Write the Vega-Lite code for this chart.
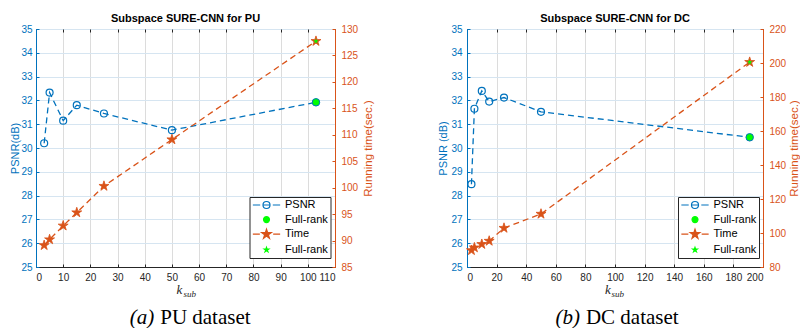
{
  "$schema": "https://vega.github.io/schema/vega-lite/v6.json",
  "background": "white",
  "padding": {"left": 9, "top": 12, "right": 0, "bottom": 0},
  "datasets": {
    "pu": [
      {"k": 3, "psnr": 30.2, "time": 89.1, "rank": "sub"},
      {"k": 5, "psnr": 32.33, "time": 90.2, "rank": "sub"},
      {"k": 10, "psnr": 31.15, "time": 92.8, "rank": "sub"},
      {"k": 15, "psnr": 31.8, "time": 95.3, "rank": "sub"},
      {"k": 25, "psnr": 31.45, "time": 100.3, "rank": "sub"},
      {"k": 50, "psnr": 30.75, "time": 109.1, "rank": "sub"},
      {"k": 103, "psnr": 31.92, "time": 127.7, "rank": "full"}
    ],
    "dc": [
      {"k": 3, "psnr": 28.48, "time": 89.8, "rank": "sub"},
      {"k": 5, "psnr": 31.65, "time": 91.4, "rank": "sub"},
      {"k": 10, "psnr": 32.4, "time": 93.4, "rank": "sub"},
      {"k": 15, "psnr": 31.95, "time": 95.3, "rank": "sub"},
      {"k": 25, "psnr": 32.12, "time": 102.9, "rank": "sub"},
      {"k": 50, "psnr": 31.52, "time": 111.2, "rank": "sub"},
      {"k": 191, "psnr": 30.45, "time": 200.5, "rank": "full"}
    ]
  },
  "hconcat": [
    {
      "width": 299,
      "height": 238,
      "title": {"text": "Subspace SURE-CNN for PU", "anchor": "middle", "frame": "group", "fontSize": 11, "fontWeight": "bold", "font": "Liberation Sans", "color": "#000000", "offset": 0},
      "data": {"name": "pu"},
      "resolve": {"scale": {"x": "independent", "y": "independent"}, "axis": {"x": "independent", "y": "independent"}},
      "layer": [
        {
          "mark": {"type": "line", "color": "#0072BD", "strokeDash": [6, 4], "strokeWidth": 1.3},
          "encoding": {
            "x": {"field": "k", "type": "quantitative", "scale": {"domain": [0, 110], "nice": false},
              "axis": {"orient": "bottom", "values": [0, 10, 20, 30, 40, 50, 60, 70, 80, 90, 100, 110], "grid": true, "gridColor": "#dcdcdc", "ticks": false, "domain": true, "domainColor": "#262626", "labelColor": "#262626", "labelFontSize": 10, "labelPadding": 5,
                "title": "k", "titleFont": "Liberation Serif", "titleFontStyle": "italic", "titleFontWeight": "normal", "titleFontSize": 13, "titleColor": "#262626", "titleX": 143, "titleY": 26, "titleBaseline": "alphabetic", "titleAlign": "center"}},
            "y": {"field": "psnr", "type": "quantitative", "scale": {"domain": [25, 35], "nice": false, "zero": false},
              "axis": {"orient": "left", "values": [25, 26, 27, 28, 29, 30, 31, 32, 33, 34, 35], "grid": true, "gridColor": "#d6e5f1", "ticks": false, "domainColor": "#0072BD", "labelColor": "#0072BD", "labelFontSize": 10, "labelPadding": 4,
                "title": "PSNR(dB)", "titleColor": "#0072BD", "titleFontSize": 11, "titleFontWeight": "normal", "titleX": -17.5, "titleY": 119, "titleAngle": -90, "titleBaseline": "alphabetic", "titleAlign": "center"}}
          }
        },
        {
          "transform": [{"filter": "datum.rank == 'sub'"}],
          "mark": {"type": "point", "shape": "circle", "filled": false, "color": "#0072BD", "size": 49, "strokeWidth": 1.2, "opacity": 1},
          "encoding": {
            "x": {"field": "k", "type": "quantitative", "scale": {"domain": [0, 110], "nice": false},
              "axis": {"orient": "top", "values": [0, 10, 20, 30, 40, 50, 60, 70, 80, 90, 100, 110], "grid": false, "domain": false, "labels": false, "ticks": true, "tickSize": -3, "tickColor": "#262626", "title": null}},
            "y": {"field": "psnr", "type": "quantitative", "scale": {"domain": [25, 35], "nice": false, "zero": false},
              "axis": {"orient": "left", "values": [25, 26, 27, 28, 29, 30, 31, 32, 33, 34, 35], "grid": false, "domain": false, "labels": false, "ticks": true, "tickSize": -3, "tickColor": "#0072BD", "title": null}}
          }
        },
        {
          "transform": [{"filter": "datum.rank == 'full'"}],
          "mark": {"type": "point", "shape": "circle", "filled": true, "fill": "#00FF00", "stroke": "#0072BD", "size": 56, "strokeWidth": 1, "opacity": 1},
          "encoding": {
            "x": {"field": "k", "type": "quantitative", "scale": {"domain": [0, 110], "nice": false},
              "axis": {"orient": "bottom", "values": [0, 10, 20, 30, 40, 50, 60, 70, 80, 90, 100, 110], "grid": false, "domain": false, "labels": false, "ticks": true, "tickSize": -3, "tickColor": "#262626",
                "title": "sub", "titleFont": "Liberation Serif", "titleFontStyle": "italic", "titleFontWeight": "normal", "titleFontSize": 9, "titleColor": "#262626", "titleX": 147, "titleY": 29, "titleBaseline": "alphabetic", "titleAlign": "left"}},
            "y": {"field": "psnr", "type": "quantitative", "scale": {"domain": [25, 35], "nice": false, "zero": false}, "axis": null}
          }
        },
        {
          "mark": {"type": "line", "color": "#D95319", "strokeDash": [6, 4], "strokeWidth": 1.3},
          "encoding": {
            "x": {"field": "k", "type": "quantitative", "scale": {"domain": [0, 110], "nice": false},
              "axis": {"orient": "bottom", "grid": false, "domain": false, "labels": false, "ticks": false,
                "title": "(a)", "titleFont": "Liberation Serif", "titleFontStyle": "italic", "titleFontWeight": "normal", "titleFontSize": 21, "titleColor": "#000000", "titleX": 93.3, "titleY": 56, "titleBaseline": "alphabetic", "titleAlign": "left"}},
            "y": {"field": "time", "type": "quantitative", "scale": {"domain": [85, 130], "nice": false, "zero": false},
              "axis": {"orient": "right", "values": [85, 90, 95, 100, 105, 110, 115, 120, 125, 130], "grid": false, "ticks": false, "domainColor": "#D95319", "labelColor": "#D95319", "labelFontSize": 10, "labelPadding": 6,
                "title": "Running time(sec.)", "titleColor": "#D95319", "titleFontSize": 11.5, "titleFontWeight": "normal", "titleX": 36, "titleY": 119, "titleAngle": -90, "titleBaseline": "alphabetic", "titleAlign": "center"}}
          }
        },
        {
          "mark": {"type": "point", "shape": "M0,-1L0.2245,-0.309L0.951,-0.309L0.363,0.118L0.588,0.809L0,0.382L-0.588,0.809L-0.363,0.118L-0.951,-0.309L-0.2245,-0.309Z", "filled": true, "fill": "#D95319", "size": 110, "stroke": "#D95319", "strokeWidth": 0.8, "opacity": 1},
          "encoding": {
            "x": {"field": "k", "type": "quantitative", "scale": {"domain": [0, 110], "nice": false},
              "axis": {"orient": "bottom", "grid": false, "domain": false, "labels": false, "ticks": false,
                "title": "PU dataset", "titleFont": "Liberation Serif", "titleFontStyle": "normal", "titleFontWeight": "normal", "titleFontSize": 21, "titleColor": "#000000", "titleX": 123.7, "titleY": 56, "titleBaseline": "alphabetic", "titleAlign": "left"}},
            "y": {"field": "time", "type": "quantitative", "scale": {"domain": [85, 130], "nice": false, "zero": false},
              "axis": {"orient": "right", "values": [85, 90, 95, 100, 105, 110, 115, 120, 125, 130], "grid": false, "domain": false, "labels": false, "ticks": true, "tickSize": -3, "tickColor": "#D95319", "title": null}}
          }
        },
        {
          "transform": [{"filter": "datum.rank == 'full'"}],
          "mark": {"type": "point", "shape": "M0,-1L0.2245,-0.309L0.951,-0.309L0.363,0.118L0.588,0.809L0,0.382L-0.588,0.809L-0.363,0.118L-0.951,-0.309L-0.2245,-0.309Z", "filled": true, "fill": "#00FF00", "size": 31, "opacity": 1},
          "encoding": {
            "x": {"field": "k", "type": "quantitative", "scale": {"domain": [0, 110], "nice": false}, "axis": null},
            "y": {"field": "time", "type": "quantitative", "scale": {"domain": [85, 130], "nice": false, "zero": false}, "axis": null}
          }
        },
        {
          "transform": [{"filter": "false"}],
          "mark": {"type": "point", "opacity": 1, "strokeWidth": 1.2},
          "encoding": {
            "fill": {"datum": "PSNR", "type": "nominal",
              "scale": {"domain": ["PSNR", "Full-rank PSNR", "Time", "Full-rank Time"], "range": ["transparent", "#00FF00", "#D95319", "#00FF00"]},
              "legend": {"title": null, "orient": "none", "legendX": 213.5, "legendY": 168, "direction": "vertical", "fillColor": "#ffffff", "strokeColor": "#262626", "padding": 2.5, "rowPadding": 1.6, "labelFont": "Liberation Sans", "labelFontSize": 11, "labelColor": "#000000", "symbolSize": 49, "symbolStrokeWidth": 1.2, "symbolOffset": 9, "labelOffset": 13,
                "labelExpr": "indexof(datum.label, 'Full') == 0 ? 'Full-rank' : datum.label"}},
            "stroke": {"datum": "PSNR", "type": "nominal",
              "scale": {"domain": ["PSNR", "Full-rank PSNR", "Time", "Full-rank Time"], "range": ["#0072BD", "#00FF00", "#D95319", "#00FF00"]}},
            "shape": {"datum": "PSNR", "type": "nominal",
              "scale": {"domain": ["PSNR", "Full-rank PSNR", "Time", "Full-rank Time"], "range": ["M-3.9,0L-1.8,0M1.8,0L3.9,0M-1,0L1,0M1,0A1,1,0,1,1,-1,0A1,1,0,1,1,1,0Z", "M0.85,0A0.85,0.85,0,1,1,-0.85,0A0.85,0.85,0,1,1,0.85,0Z", "M-3.9,0L-1.9,0M1.9,0L3.9,0M0,-1.45L0.326,-0.448L1.379,-0.448L0.527,0.171L0.853,1.173L0,0.554L-0.853,1.173L-0.527,0.171L-1.379,-0.448L-0.326,-0.448Z", "M0,-0.7L0.157,-0.216L0.666,-0.216L0.254,0.083L0.412,0.566L0,0.267L-0.412,0.566L-0.254,0.083L-0.666,-0.216L-0.157,-0.216Z"]}}
          }
        }
      ]
    },
    {
      "width": 296,
      "height": 238,
      "title": {"text": "Subspace SURE-CNN for DC", "anchor": "middle", "frame": "group", "fontSize": 11, "fontWeight": "bold", "font": "Liberation Sans", "color": "#000000", "offset": 0},
      "data": {"name": "dc"},
      "resolve": {"scale": {"x": "independent", "y": "independent"}, "axis": {"x": "independent", "y": "independent"}},
      "layer": [
        {
          "mark": {"type": "line", "color": "#0072BD", "strokeDash": [6, 4], "strokeWidth": 1.3},
          "encoding": {
            "x": {"field": "k", "type": "quantitative", "scale": {"domain": [0, 200], "nice": false},
              "axis": {"orient": "bottom", "values": [0, 20, 40, 60, 80, 100, 120, 140, 160, 180, 200], "grid": true, "gridColor": "#dcdcdc", "ticks": false, "domain": true, "domainColor": "#262626", "labelColor": "#262626", "labelFontSize": 10, "labelPadding": 5,
                "title": "k", "titleFont": "Liberation Serif", "titleFontStyle": "italic", "titleFontWeight": "normal", "titleFontSize": 13, "titleColor": "#262626", "titleX": 140.3, "titleY": 26, "titleBaseline": "alphabetic", "titleAlign": "center"}},
            "y": {"field": "psnr", "type": "quantitative", "scale": {"domain": [25, 35], "nice": false, "zero": false},
              "axis": {"orient": "left", "values": [25, 26, 27, 28, 29, 30, 31, 32, 33, 34, 35], "grid": true, "gridColor": "#d6e5f1", "ticks": false, "domainColor": "#0072BD", "labelColor": "#0072BD", "labelFontSize": 10, "labelPadding": 5,
                "title": "PSNR (dB)", "titleColor": "#0072BD", "titleFontSize": 11, "titleFontWeight": "normal", "titleX": -20.5, "titleY": 119, "titleAngle": -90, "titleBaseline": "alphabetic", "titleAlign": "center"}}
          }
        },
        {
          "transform": [{"filter": "datum.rank == 'sub'"}],
          "mark": {"type": "point", "shape": "circle", "filled": false, "color": "#0072BD", "size": 49, "strokeWidth": 1.2, "opacity": 1},
          "encoding": {
            "x": {"field": "k", "type": "quantitative", "scale": {"domain": [0, 200], "nice": false},
              "axis": {"orient": "top", "values": [0, 20, 40, 60, 80, 100, 120, 140, 160, 180, 200], "grid": false, "domain": false, "labels": false, "ticks": true, "tickSize": -3, "tickColor": "#262626", "title": null}},
            "y": {"field": "psnr", "type": "quantitative", "scale": {"domain": [25, 35], "nice": false, "zero": false},
              "axis": {"orient": "left", "values": [25, 26, 27, 28, 29, 30, 31, 32, 33, 34, 35], "grid": false, "domain": false, "labels": false, "ticks": true, "tickSize": -3, "tickColor": "#0072BD", "title": null}}
          }
        },
        {
          "transform": [{"filter": "datum.rank == 'full'"}],
          "mark": {"type": "point", "shape": "circle", "filled": true, "fill": "#00FF00", "stroke": "#0072BD", "size": 56, "strokeWidth": 1, "opacity": 1},
          "encoding": {
            "x": {"field": "k", "type": "quantitative", "scale": {"domain": [0, 200], "nice": false},
              "axis": {"orient": "bottom", "values": [0, 20, 40, 60, 80, 100, 120, 140, 160, 180, 200], "grid": false, "domain": false, "labels": false, "ticks": true, "tickSize": -3, "tickColor": "#262626",
                "title": "sub", "titleFont": "Liberation Serif", "titleFontStyle": "italic", "titleFontWeight": "normal", "titleFontSize": 9, "titleColor": "#262626", "titleX": 144, "titleY": 29, "titleBaseline": "alphabetic", "titleAlign": "left"}},
            "y": {"field": "psnr", "type": "quantitative", "scale": {"domain": [25, 35], "nice": false, "zero": false}, "axis": null}
          }
        },
        {
          "mark": {"type": "line", "color": "#D95319", "strokeDash": [6, 4], "strokeWidth": 1.3},
          "encoding": {
            "x": {"field": "k", "type": "quantitative", "scale": {"domain": [0, 200], "nice": false},
              "axis": {"orient": "bottom", "grid": false, "domain": false, "labels": false, "ticks": false,
                "title": "(b)", "titleFont": "Liberation Serif", "titleFontStyle": "italic", "titleFontWeight": "normal", "titleFontSize": 21, "titleColor": "#000000", "titleX": 88, "titleY": 56, "titleBaseline": "alphabetic", "titleAlign": "left"}},
            "y": {"field": "time", "type": "quantitative", "scale": {"domain": [80, 220], "nice": false, "zero": false},
              "axis": {"orient": "right", "values": [80, 100, 120, 140, 160, 180, 200, 220], "grid": false, "ticks": false, "domainColor": "#D95319", "labelColor": "#D95319", "labelFontSize": 10, "labelPadding": 6,
                "title": "Running time(sec.)", "titleColor": "#D95319", "titleFontSize": 11.5, "titleFontWeight": "normal", "titleX": 34, "titleY": 119, "titleAngle": -90, "titleBaseline": "alphabetic", "titleAlign": "center"}}
          }
        },
        {
          "mark": {"type": "point", "shape": "M0,-1L0.2245,-0.309L0.951,-0.309L0.363,0.118L0.588,0.809L0,0.382L-0.588,0.809L-0.363,0.118L-0.951,-0.309L-0.2245,-0.309Z", "filled": true, "fill": "#D95319", "size": 110, "stroke": "#D95319", "strokeWidth": 0.8, "opacity": 1},
          "encoding": {
            "x": {"field": "k", "type": "quantitative", "scale": {"domain": [0, 200], "nice": false},
              "axis": {"orient": "bottom", "grid": false, "domain": false, "labels": false, "ticks": false,
                "title": "DC dataset", "titleFont": "Liberation Serif", "titleFontStyle": "normal", "titleFontWeight": "normal", "titleFontSize": 21, "titleColor": "#000000", "titleX": 118.4, "titleY": 56, "titleBaseline": "alphabetic", "titleAlign": "left"}},
            "y": {"field": "time", "type": "quantitative", "scale": {"domain": [80, 220], "nice": false, "zero": false},
              "axis": {"orient": "right", "values": [80, 100, 120, 140, 160, 180, 200, 220], "grid": false, "domain": false, "labels": false, "ticks": true, "tickSize": -3, "tickColor": "#D95319", "title": null}}
          }
        },
        {
          "transform": [{"filter": "datum.rank == 'full'"}],
          "mark": {"type": "point", "shape": "M0,-1L0.2245,-0.309L0.951,-0.309L0.363,0.118L0.588,0.809L0,0.382L-0.588,0.809L-0.363,0.118L-0.951,-0.309L-0.2245,-0.309Z", "filled": true, "fill": "#00FF00", "size": 31, "opacity": 1},
          "encoding": {
            "x": {"field": "k", "type": "quantitative", "scale": {"domain": [0, 200], "nice": false}, "axis": null},
            "y": {"field": "time", "type": "quantitative", "scale": {"domain": [80, 220], "nice": false, "zero": false}, "axis": null}
          }
        },
        {
          "transform": [{"filter": "false"}],
          "mark": {"type": "point", "opacity": 1, "strokeWidth": 1.2},
          "encoding": {
            "fill": {"datum": "PSNR", "type": "nominal",
              "scale": {"domain": ["PSNR", "Full-rank PSNR", "Time", "Full-rank Time"], "range": ["transparent", "#00FF00", "#D95319", "#00FF00"]},
              "legend": {"title": null, "orient": "none", "legendX": 211, "legendY": 168, "direction": "vertical", "fillColor": "#ffffff", "strokeColor": "#262626", "padding": 2.5, "rowPadding": 1.6, "labelFont": "Liberation Sans", "labelFontSize": 11, "labelColor": "#000000", "symbolSize": 49, "symbolStrokeWidth": 1.2, "symbolOffset": 9, "labelOffset": 13,
                "labelExpr": "indexof(datum.label, 'Full') == 0 ? 'Full-rank' : datum.label"}},
            "stroke": {"datum": "PSNR", "type": "nominal",
              "scale": {"domain": ["PSNR", "Full-rank PSNR", "Time", "Full-rank Time"], "range": ["#0072BD", "#00FF00", "#D95319", "#00FF00"]}},
            "shape": {"datum": "PSNR", "type": "nominal",
              "scale": {"domain": ["PSNR", "Full-rank PSNR", "Time", "Full-rank Time"], "range": ["M-3.9,0L-1.8,0M1.8,0L3.9,0M-1,0L1,0M1,0A1,1,0,1,1,-1,0A1,1,0,1,1,1,0Z", "M0.85,0A0.85,0.85,0,1,1,-0.85,0A0.85,0.85,0,1,1,0.85,0Z", "M-3.9,0L-1.9,0M1.9,0L3.9,0M0,-1.45L0.326,-0.448L1.379,-0.448L0.527,0.171L0.853,1.173L0,0.554L-0.853,1.173L-0.527,0.171L-1.379,-0.448L-0.326,-0.448Z", "M0,-0.7L0.157,-0.216L0.666,-0.216L0.254,0.083L0.412,0.566L0,0.267L-0.412,0.566L-0.254,0.083L-0.666,-0.216L-0.157,-0.216Z"]}}
          }
        }
      ]
    }
  ],
  "spacing": 132,
  "bounds": "flush",
  "resolve": {"scale": {"fill": "independent", "stroke": "independent", "shape": "independent"}, "legend": {"fill": "independent", "stroke": "independent", "shape": "independent"}},
  "config": {
    "view": {"stroke": "#262626", "strokeWidth": 1},
    "axis": {"labelFont": "Liberation Sans", "titleFont": "Liberation Sans", "labelFontSize": 10}
  }
}
